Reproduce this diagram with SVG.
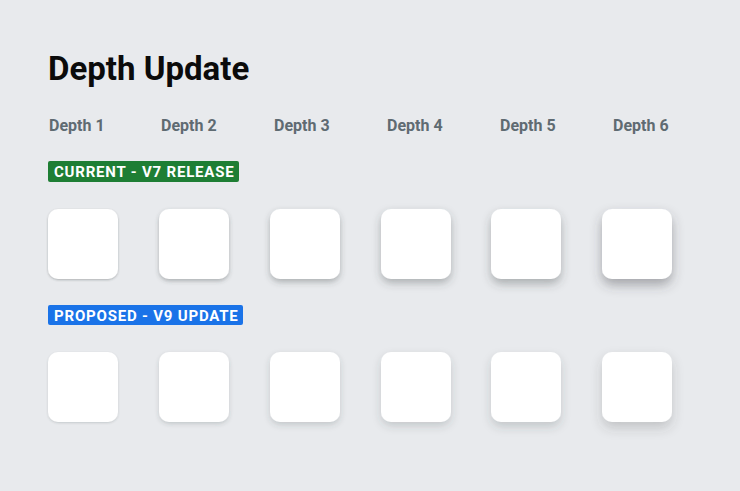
<svg xmlns="http://www.w3.org/2000/svg" width="740" height="491" viewBox="0 0 740 491">
<style>
.title{font-family:Roboto,"Liberation Sans",sans-serif;font-weight:700;font-size:33px;fill:#0b0b0b}
.lbl{font-family:Roboto,"Liberation Sans",sans-serif;font-weight:700;font-size:16px;fill:#5f6b72}
.badge{font-family:Roboto,"Liberation Sans",sans-serif;font-weight:700;font-size:15px;fill:#fff;letter-spacing:0.8px}
.card{fill:#fff}
</style>
<defs>
<filter id="c1" x="-50%" y="-50%" width="200%" height="200%"><feDropShadow dx="0" dy="1" stdDeviation="1" flood-color="#3c4043" flood-opacity="0.35"/></filter>
<filter id="c2" x="-50%" y="-50%" width="200%" height="200%"><feDropShadow dx="0" dy="2" stdDeviation="2" flood-color="#3c4043" flood-opacity="0.35"/></filter>
<filter id="c3" x="-50%" y="-50%" width="200%" height="200%"><feDropShadow dx="0" dy="3" stdDeviation="3" flood-color="#3c4043" flood-opacity="0.35"/></filter>
<filter id="c4" x="-50%" y="-50%" width="200%" height="200%"><feDropShadow dx="0" dy="4" stdDeviation="4" flood-color="#3c4043" flood-opacity="0.35"/></filter>
<filter id="c5" x="-50%" y="-50%" width="200%" height="200%"><feDropShadow dx="0" dy="5" stdDeviation="5" flood-color="#3c4043" flood-opacity="0.35"/></filter>
<filter id="c6" x="-50%" y="-50%" width="200%" height="200%"><feDropShadow dx="0" dy="6" stdDeviation="6" flood-color="#3c4043" flood-opacity="0.4"/></filter>
<filter id="p1" x="-50%" y="-50%" width="200%" height="200%"><feDropShadow dx="0" dy="1" stdDeviation="1" flood-color="#3c4043" flood-opacity="0.2"/></filter>
<filter id="p2" x="-50%" y="-50%" width="200%" height="200%"><feDropShadow dx="0" dy="2" stdDeviation="2" flood-color="#3c4043" flood-opacity="0.2"/></filter>
<filter id="p3" x="-50%" y="-50%" width="200%" height="200%"><feDropShadow dx="0" dy="3" stdDeviation="3" flood-color="#3c4043" flood-opacity="0.2"/></filter>
<filter id="p4" x="-50%" y="-50%" width="200%" height="200%"><feDropShadow dx="0" dy="4" stdDeviation="4" flood-color="#3c4043" flood-opacity="0.2"/></filter>
<filter id="p5" x="-50%" y="-50%" width="200%" height="200%"><feDropShadow dx="0" dy="5" stdDeviation="5" flood-color="#3c4043" flood-opacity="0.2"/></filter>
<filter id="p6" x="-50%" y="-50%" width="200%" height="200%"><feDropShadow dx="0" dy="6" stdDeviation="6" flood-color="#3c4043" flood-opacity="0.22"/></filter>
</defs>
<rect width="740" height="491" fill="#e8eaed"/>
<text class="title" x="48" y="80">Depth Update</text>
<g id="labels">
<text class="lbl" x="49" y="131">Depth 1</text>
<text class="lbl" x="161" y="131">Depth 2</text>
<text class="lbl" x="274" y="131">Depth 3</text>
<text class="lbl" x="387" y="131">Depth 4</text>
<text class="lbl" x="500" y="131">Depth 5</text>
<text class="lbl" x="613" y="131">Depth 6</text>
</g>
<g id="badge-current">
<rect x="48" y="161" width="191" height="21" rx="2" fill="#1e7e34"/>
<text class="badge" x="54" y="177">CURRENT - V7 RELEASE</text>
</g>
<g id="current-row">
<g id="c-d1"><rect class="card" x="48" y="209" width="70" height="70" rx="10" filter="url(#c1)"/></g>
<g id="c-d2"><rect class="card" x="159" y="209" width="70" height="70" rx="10" filter="url(#c2)"/></g>
<g id="c-d3"><rect class="card" x="270" y="209" width="70" height="70" rx="10" filter="url(#c3)"/></g>
<g id="c-d4"><rect class="card" x="381" y="209" width="70" height="70" rx="10" filter="url(#c4)"/></g>
<g id="c-d5"><rect class="card" x="491" y="209" width="70" height="70" rx="10" filter="url(#c5)"/></g>
<g id="c-d6"><rect class="card" x="602" y="209" width="70" height="70" rx="10" filter="url(#c6)"/></g>
</g>
<g id="badge-proposed">
<rect x="48" y="305" width="195" height="20" rx="2" fill="#1a73e8"/>
<text class="badge" x="54" y="320.5">PROPOSED - V9 UPDATE</text>
</g>
<g id="proposed-row">
<g id="p-d1"><rect class="card" x="48" y="352" width="70" height="70" rx="10" filter="url(#p1)"/></g>
<g id="p-d2"><rect class="card" x="159" y="352" width="70" height="70" rx="10" filter="url(#p2)"/></g>
<g id="p-d3"><rect class="card" x="270" y="352" width="70" height="70" rx="10" filter="url(#p3)"/></g>
<g id="p-d4"><rect class="card" x="381" y="352" width="70" height="70" rx="10" filter="url(#p4)"/></g>
<g id="p-d5"><rect class="card" x="491" y="352" width="70" height="70" rx="10" filter="url(#p5)"/></g>
<g id="p-d6"><rect class="card" x="602" y="352" width="70" height="70" rx="10" filter="url(#p6)"/></g>
</g>
<g id="connectors"/>
</svg>
